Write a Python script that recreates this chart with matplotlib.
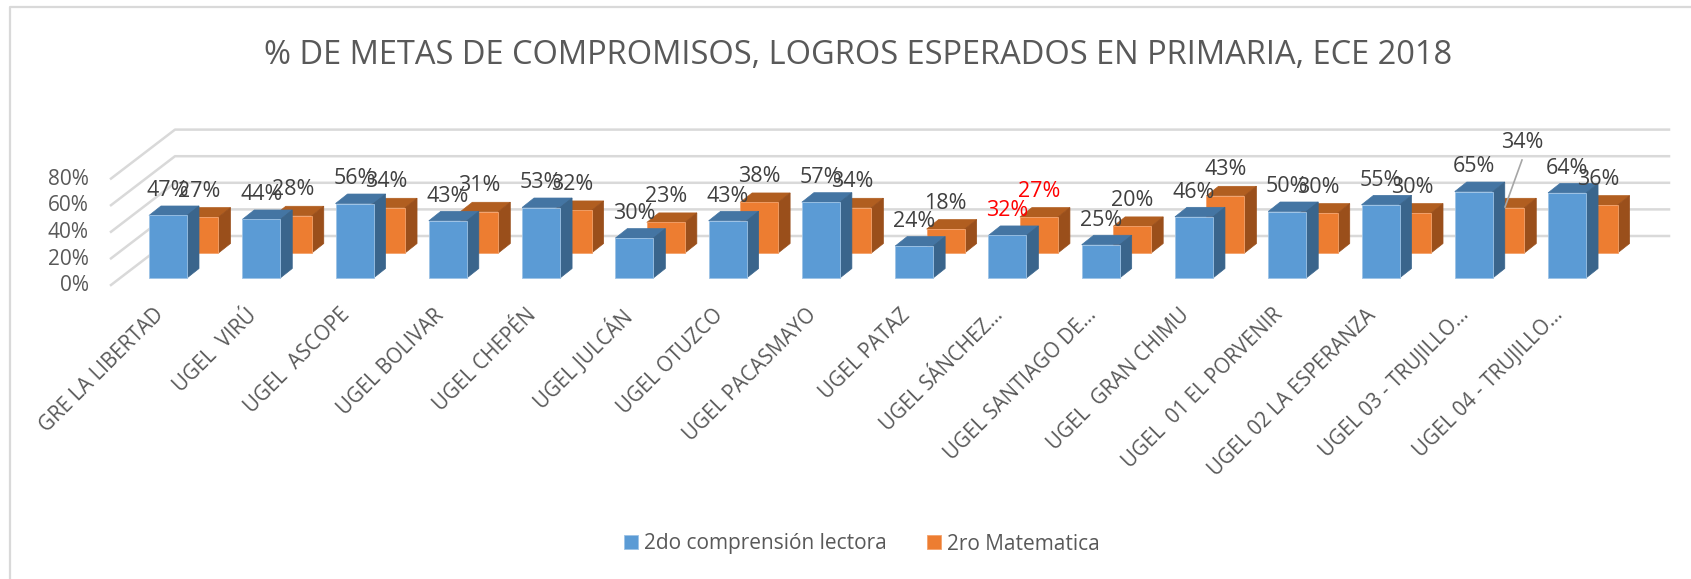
import matplotlib
matplotlib.use("Agg")
import matplotlib.pyplot as plt
from matplotlib.patches import Polygon

plt.rcParams['font.family'] = ['Open Sans', 'DejaVu Sans']

CATEGORIES = ["GRE LA LIBERTAD", "UGEL  VIRÚ", "UGEL  ASCOPE", "UGEL BOLIVAR", "UGEL CHEPÉN",
              "UGEL JULCÁN", "UGEL OTUZCO", "UGEL PACASMAYO", "UGEL PATAZ", "UGEL SÁNCHEZ…",
              "UGEL SANTIAGO DE…", "UGEL  GRAN CHIMU", "UGEL  01 EL PORVENIR",
              "UGEL 02 LA ESPERANZA", "UGEL 03 - TRUJILLO…", "UGEL 04 - TRUJILLO…"]
LECTORA = [47, 44, 56, 43, 53, 30, 43, 57, 24, 32, 25, 46, 50, 55, 65, 64]
MATEMATICA = [27, 28, 34, 31, 32, 23, 38, 34, 18, 27, 20, 43, 30, 30, 34, 36]
TICKS = [0, 20, 40, 60, 80]
SERIES = ["2do comprensión lectora", "2ro Matematica"]
TITLE = "% DE METAS DE COMPROMISOS, LOGROS ESPERADOS EN PRIMARIA, ECE 2018"

W, H = 1691, 579
STEP = 93.27   # px per category
SCALE = 1.33   # px per percent
X0, Y0 = 168, 278  # centre of first blue bar, blue baseline

BAR_W = 38 / STEP
DX = 12 / STEP      # depth of a bar
DY = 9.5 / SCALE
OR_DX = 31.5 / STEP  # orange bar shift
OR_DY = 25 / SCALE
TEXT = "#595959"
LABEL = "#404040"

fig = plt.figure(figsize=(W / 100, H / 100), dpi=100)
ax = fig.add_axes([0, 0, 1, 1])
ax.set_xlim(-X0 / STEP, (W - X0) / STEP)
ax.set_ylim((Y0 - H) / SCALE, Y0 / SCALE)
ax.axis("off")


def px(x, y):
    # pixel position of the reference -> data units
    return (x - X0) / STEP, (Y0 - y) / SCALE


# chart frame, only left and top are inside the crop
xa, ya = px(10, 579)
xb, yb = px(10, 7)
xc, _ = px(1691, 7)
ax.plot([xa, xb, xc], [ya, yb, yb], color="#d9d9d9", lw=1.6, zorder=0)

# walls gridlines
for t in TICKS:
    xa, ya = px(111, 285)
    xb, yb = px(175, 236)
    xc, _ = px(1669, 236)
    ax.plot([xa, xb, xc], [ya + t, yb + t, yb + t], color="#d9d9d9", lw=1.8, zorder=1)
    ax.text(xa - 0.24, ya + t - 0.6, f"{t}%", ha="right", va="center", fontsize=15, color=TEXT)


def draw_bar(x, v, base, top, side, order):
    left = x - BAR_W / 2
    right = x + BAR_W / 2
    ax.add_patch(Polygon([(left, base + v), (left + DX, base + v + DY), (right + DX, base + v + DY),
                          (right, base + v)], fc=top, ec=top, lw=0.5, zorder=order))
    ax.add_patch(Polygon([(right, base), (right + DX, base + DY), (right + DX, base + v + DY),
                          (right, base + v)], fc=side, ec=side, lw=0.5, zorder=order))


xs = list(range(len(CATEGORIES)))
xs_or = [x + OR_DX for x in xs]
bottoms = [OR_DY] * len(xs)

ax.bar(xs_or, MATEMATICA, BAR_W, bottom=bottoms, color="#ED7D31", edgecolor="#F4A26B", lw=0.6,
       zorder=3, label=SERIES[1])
for x, v in zip(xs_or, MATEMATICA):
    draw_bar(x, v, OR_DY, "#B15E20", "#9A4F1B", 2)

ax.bar(xs, LECTORA, BAR_W, color="#5B9BD5", edgecolor="#9DC3E6", lw=0.6, zorder=5, label=SERIES[0])
for x, v in zip(xs, LECTORA):
    draw_bar(x, v, 0, "#4475A3", "#3A658C", 4)

# data labels
for i, (a, b) in enumerate(zip(LECTORA, MATEMATICA)):
    c = "red" if i == 9 else LABEL
    ax.text(i, a + 18.5, f"{a}%", ha="center", va="center", fontsize=15.5, color=c, zorder=8)
    if i == 14:
        # this one was moved up by hand in the original, with a leader line
        lx, ly = px(1522, 142)
        ax.text(lx, ly, f"{b}%", ha="center", va="center", fontsize=15.5, color=c, zorder=8)
        sx, sy = px(1522, 160)
        ex, ey = px(1505, 207)
        ax.plot([sx, ex], [sy, ey], color="#a6a6a6", lw=1.2, zorder=8)
    else:
        ax.text(i + OR_DX, b + OR_DY + 19.5, f"{b}%", ha="center", va="center", fontsize=15.5, color=c, zorder=8)

# category labels
for i, name in enumerate(CATEGORIES):
    ax.text(i - 0.16, -20, name, rotation=45, rotation_mode="anchor", ha="right", va="top",
            fontsize=14.8, color=TEXT)

ax.text(*px(858, 55), TITLE, ha="center", va="center", fontsize=23.5, color=TEXT)

h, l = ax.get_legend_handles_labels()
ax.legend(h[::-1], l[::-1], loc="center", bbox_to_anchor=(862 / W, 1 - 544 / H), bbox_transform=fig.transFigure,
          ncol=2, frameon=False, fontsize=15, labelcolor=TEXT, handlelength=0.67, handleheight=0.67,
          handletextpad=0.3, columnspacing=1.9)

fig.savefig("out.png", dpi=100)
